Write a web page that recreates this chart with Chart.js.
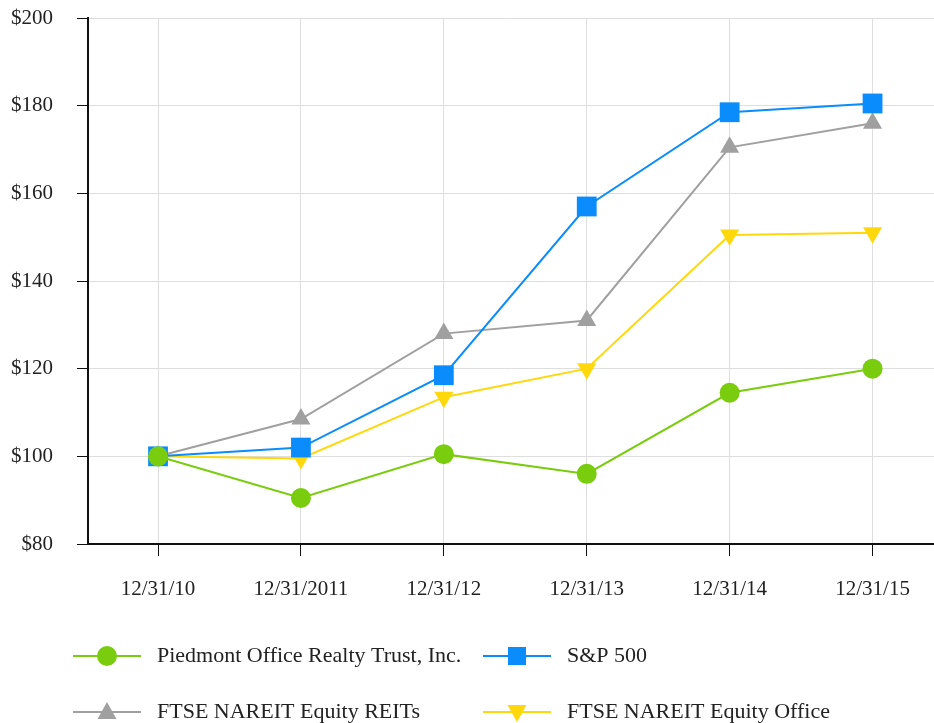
<!DOCTYPE html>
<html>
<head>
<meta charset="utf-8">
<script src="https://cdn.jsdelivr.net/npm/chart.js@4/dist/chart.umd.min.js"></script>
<style>
  html, body { margin: 0; padding: 0; background: #fff; overflow: hidden; }
  #wrap { width: 934px; height: 723px; position: relative; }
  canvas { display: block; }
</style>
</head>
<body>
<div id="wrap"><canvas id="myChart"></canvas></div>
<script>
const periods = ['12/31/10', '12/31/2011', '12/31/12', '12/31/13', '12/31/14', '12/31/15'];
const piedmont = [100, 90.5, 100.5, 96, 114.5, 120];
const sp500 = [100, 102, 118.5, 157, 178.5, 180.5];
const reits = [100, 108.5, 128, 131, 170.5, 176];
const office = [100, 99.5, 113.5, 120, 150.5, 151];
const yTicks = [80, 100, 120, 140, 160, 180, 200];

const seriesNames = ['Piedmont Office Realty Trust, Inc.', 'S&P 500', 'FTSE NAREIT Equity REITs', 'FTSE NAREIT Equity Office'];
const colors = ['#7acc0e', '#0b8cfc', '#a0a0a0', '#fed80a'];

const toXY = arr => arr.map((v, i) => ({x: i, y: v}));
const fontFam = '"Liberation Serif", "Times New Roman", serif';

// legend drawn on the canvas: line + marker + text, two rows
const legendPlugin = {
    id: 'customLegend',
    afterDraw(chart) {
        const c = chart.ctx;
        const items = [
            {x: 73, y: 656, style: 'circle'},
            {x: 483, y: 656, style: 'rect'},
            {x: 73, y: 712, style: 'triangle'},
            {x: 483, y: 712, style: 'down'}
        ];
        c.save();
        items.forEach((it, i) => {
            c.strokeStyle = colors[i];
            c.fillStyle = colors[i];
            c.lineWidth = 2;
            c.beginPath();
            c.moveTo(it.x, it.y);
            c.lineTo(it.x + 68, it.y);
            c.stroke();
            const cx = it.x + 34, cy = it.y;
            c.beginPath();
            if (it.style === 'circle') {
                c.arc(cx, cy, 10, 0, Math.PI * 2);
            } else if (it.style === 'rect') {
                c.rect(cx - 9, cy - 9, 18, 18);
            } else if (it.style === 'triangle') {
                c.moveTo(cx, cy - 10);
                c.lineTo(cx + 9.5, cy + 7);
                c.lineTo(cx - 9.5, cy + 7);
                c.closePath();
            } else {
                c.moveTo(cx, cy + 10);
                c.lineTo(cx + 9.5, cy - 7);
                c.lineTo(cx - 9.5, cy - 7);
                c.closePath();
            }
            c.fill();
            c.fillStyle = '#222';
            c.font = '22px ' + fontFam;
            c.textBaseline = 'middle';
            c.textAlign = 'left';
            c.fillText(seriesNames[i], it.x + 84, it.y);
        });
        c.restore();
    }
};

const ctx = document.getElementById('myChart');

new Chart(ctx, {
    type: 'line',
    data: {
        datasets: [
            {
                label: seriesNames[0],
                data: toXY(piedmont),
                borderColor: colors[0],
                backgroundColor: colors[0],
                borderWidth: 2,
                pointStyle: 'circle',
                pointRadius: 10,
                pointBorderWidth: 0
            },
            {
                label: seriesNames[1],
                data: toXY(sp500),
                borderColor: colors[1],
                backgroundColor: colors[1],
                borderWidth: 2,
                pointStyle: 'rect',
                pointRadius: 14,
                pointBorderWidth: 0
            },
            {
                label: seriesNames[3],
                data: toXY(office),
                borderColor: colors[3],
                backgroundColor: colors[3],
                borderWidth: 2,
                pointStyle: 'triangle',
                pointRotation: 180,
                pointRadius: 11,
                pointBorderWidth: 0
            },
            {
                label: seriesNames[2],
                data: toXY(reits),
                borderColor: colors[2],
                backgroundColor: colors[2],
                borderWidth: 2,
                pointStyle: 'triangle',
                pointRadius: 11,
                pointBorderWidth: 0
            }
        ]
    },
    options: {
        responsive: true,
        maintainAspectRatio: false,
        animation: false,
        layout: {autoPadding: false, padding: {top: 18, left: 0, right: 0, bottom: 0}},
        plugins: {
            legend: {display: false},
            tooltip: {enabled: false}
        },
        scales: {
            x: {
                type: 'linear',
                min: -0.49,
                max: 5.43,
                afterFit(scale) {
                    scale.height = 179;
                    scale.paddingLeft = 0;
                    scale.paddingRight = 0;
                },
                afterBuildTicks(scale) {
                    scale.ticks = periods.map((p, i) => ({value: i}));
                },
                ticks: {
                    callback: (v) => periods[v],
                    color: '#222',
                    font: {family: fontFam, size: 21},
                    padding: 21,
                    maxRotation: 0
                },
                grid: {
                    color: '#dedede',
                    tickColor: '#111',
                    tickLength: 12,
                    lineWidth: 1
                },
                border: {display: true, color: '#111', width: 2}
            },
            y: {
                min: 80,
                max: 200,
                afterFit(scale) {
                    scale.width = 88;
                    scale.paddingTop = 0;
                    scale.paddingBottom = 0;
                },
                afterBuildTicks(scale) {
                    scale.ticks = yTicks.map(v => ({value: v}));
                },
                ticks: {
                    callback: (v) => '$' + v,
                    color: '#222',
                    font: {family: fontFam, size: 21},
                    padding: 24
                },
                grid: {
                    color: '#dedede',
                    tickColor: '#111',
                    tickLength: 11,
                    lineWidth: 1
                },
                border: {display: true, color: '#111', width: 2}
            }
        }
    },
    plugins: [legendPlugin]
});
</script>
</body>
</html>
